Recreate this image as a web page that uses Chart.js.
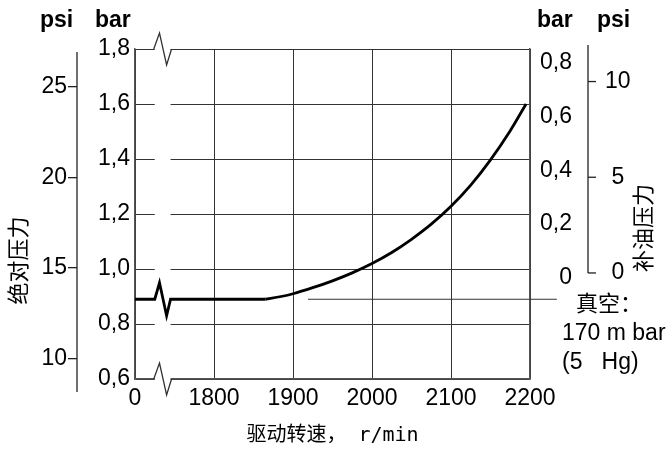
<!DOCTYPE html>
<html>
<head>
<meta charset="utf-8">
<script src="https://cdn.jsdelivr.net/npm/chart.js@4/dist/chart.umd.min.js"></script>
<style>
  html, body { margin: 0; padding: 0; background: #fff; }
  #wrap { width: 672px; height: 450px; }
</style>
</head>
<body>
<div id="wrap"><canvas id="c" width="672" height="450"></canvas></div>
<script>
// Drive speed (r/min) and absolute charge pressure (bar) along the curve.
// 1700 is the broken-axis origin, labelled "0".
const flatRpm = [1700, 1725, 1731, 1740, 1745, 1865];
const flatBar = [0.89, 0.89, 0.95, 0.83, 0.89, 0.89];
const riseRpm = [1865, 1885, 1900, 1925, 1950, 1975, 2000, 2025, 2050, 2075, 2100, 2125, 2150, 2175, 2195];
const riseBar = [0.89, 0.90, 0.91, 0.932, 0.957, 0.986, 1.02, 1.06, 1.108, 1.163, 1.228, 1.305, 1.397, 1.503, 1.60];

// Axis ticks
const speedTicks = [1700, 1800, 1900, 2000, 2100, 2200];
const speedTickLabels = ['0', '1800', '1900', '2000', '2100', '2200'];
const absBarTicks = [0.6, 0.8, 1.0, 1.2, 1.4, 1.6, 1.8];
const absPsiTicks = [10, 15, 20, 25];
const chargeBarTicks = [0, 0.2, 0.4, 0.6, 0.8];
const chargePsiTicks = [0, 5, 10];

// Axis break (r/min) and vacuum leader line
const breakRpm = [1725, 1731, 1740, 1745];
const vacuumBar = 0.89;
const vacuumLeaderRpm = [1919, 2234];

const SANS = '"Liberation Sans", Arial, Helvetica, sans-serif';
const CJK = '"Noto Sans CJK SC", "Noto Sans", sans-serif';
const GRID = '#333';
const FRAME = '#555';

const commaFmt = v => (v === 0 ? '0' : v.toFixed(1).replace('.', ','));
const setTicks = arr => scale => { scale.ticks = arr.map(v => ({ value: v })); };

const axisBreak = {
  id: 'axisBreak',
  beforeDatasetsDraw(chart) {
    const { ctx, chartArea: { top, bottom }, scales: { x } } = chart;
    const p = breakRpm.map(v => x.getPixelForValue(v));
    ctx.save();
    ctx.fillStyle = '#fff';
    ctx.fillRect(p[0], top - 2, p[3] - p[0], bottom - top + 4);
    ctx.strokeStyle = GRID;
    ctx.lineWidth = 1.3;
    [top, bottom].forEach(y => {
      ctx.beginPath();
      ctx.moveTo(p[0] - 1, y);
      ctx.lineTo(p[1], y - 16);
      ctx.lineTo(p[2], y + 16);
      ctx.lineTo(p[3] + 1, y);
      ctx.stroke();
    });
    ctx.restore();
  }
};

const decor = {
  id: 'decor',
  afterDraw(chart) {
    const { ctx, chartArea: ca, scales: s } = chart;
    const line = (x1, y1, x2, y2) => { ctx.beginPath(); ctx.moveTo(x1, y1); ctx.lineTo(x2, y2); ctx.stroke(); };
    ctx.save();
    ctx.strokeStyle = '#222';
    ctx.lineWidth = 1.3;

    // psi axis lines
    const xl = s.yPsiL.right;
    line(xl, ca.top + 3, xl, ca.bottom + 13);
    const xr = s.yPsiR.left + 16;
    line(xr, ca.top - 4, xr, s.yPsiR.getPixelForValue(0));
    chargePsiTicks.forEach(v => {
      const y = s.yPsiR.getPixelForValue(v);
      line(xr, y, xr + 8, y);
    });

    // unit headers
    ctx.fillStyle = '#000';
    ctx.textAlign = 'left';
    ctx.textBaseline = 'alphabetic';
    ctx.font = 'bold 23px ' + SANS;
    ctx.fillText('psi', 40, 27);
    ctx.fillText('bar', 95, 27);
    ctx.fillText('bar', 537, 27);
    ctx.fillText('psi', 597, 27);

    // vertical axis titles
    ctx.font = '22px ' + CJK;
    ctx.textAlign = 'center';
    ctx.textBaseline = 'middle';
    [['绝对压力', 17.5, 260.5], ['补油压力', 643, 228]].forEach(([t, x, y]) => {
      ctx.save();
      ctx.translate(x, y);
      ctx.rotate(-Math.PI / 2);
      ctx.fillText(t, 0, 0);
      ctx.restore();
    });

    // vacuum note
    ctx.textAlign = 'left';
    ctx.font = '22px ' + CJK;
    ctx.fillText('真空：', 576, 302.5);
    ctx.textBaseline = 'alphabetic';
    ctx.font = '23px ' + SANS;
    ctx.fillText('170 m bar', 562, 340);
    ctx.fillText('(5   Hg)', 562, 369);
    ctx.restore();
  }
};

new Chart(document.getElementById('c'), {
  type: 'line',
  data: {
    datasets: [
      {
        data: flatRpm.map((x, i) => ({ x, y: flatBar[i] })),
        borderColor: '#000', borderWidth: 2.8, pointRadius: 0, tension: 0,
        borderJoinStyle: 'miter'
      },
      {
        data: riseRpm.map((x, i) => ({ x, y: riseBar[i] })),
        borderColor: '#000', borderWidth: 2.8, pointRadius: 0,
        cubicInterpolationMode: 'monotone'
      },
      {
        data: vacuumLeaderRpm.map(x => ({ x, y: vacuumBar })),
        borderColor: '#333', borderWidth: 1.2, pointRadius: 0, clip: false
      }
    ]
  },
  options: {
    responsive: false,
    animation: false,
    devicePixelRatio: 1,
    layout: { padding: { top: 49, left: 0, right: 0, bottom: 0 } },
    plugins: { legend: { display: false }, tooltip: { enabled: false } },
    scales: {
      x: {
        type: 'linear', position: 'bottom', min: 1700, max: 2200,
        afterBuildTicks: setTicks(speedTicks),
        afterFit: s => { s.height = 71; },
        grid: { color: GRID, lineWidth: 1, drawTicks: false },
        border: { color: FRAME, width: 1.5 },
        ticks: {
          color: '#000', font: { family: SANS, size: 23 }, padding: 6,
          maxRotation: 0, autoSkip: false,
          callback: v => speedTickLabels[speedTicks.indexOf(v)]
        },
        title: {
          display: true, text: '驱动转速， r/min', color: '#000',
          font: { family: '"DejaVu Sans Mono", "Noto Sans CJK SC", monospace', size: 20 },
          padding: { top: 0, bottom: 2 }
        }
      },
      y: {
        type: 'linear', position: 'left', weight: 0, min: 0.6, max: 1.8,
        afterBuildTicks: setTicks(absBarTicks),
        afterFit: s => { s.width = 58; },
        grid: { color: GRID, lineWidth: 1, drawTicks: false },
        border: { color: FRAME, width: 1.5 },
        ticks: { color: '#000', font: { family: SANS, size: 23 }, padding: 5, callback: commaFmt }
      },
      yPsiL: {
        type: 'linear', position: 'left', weight: 1, min: 8.87, max: 27.1,
        afterBuildTicks: setTicks(absPsiTicks),
        afterFit: s => { s.width = 77; },
        grid: { drawOnChartArea: false, color: '#222', lineWidth: 1.3, tickLength: 9 },
        border: { display: false },
        ticks: { color: '#000', font: { family: SANS, size: 23 }, padding: 1 }
      },
      yGauge: {
        type: 'linear', position: 'right', weight: 0, min: -0.377, max: 0.852,
        afterBuildTicks: setTicks(chargeBarTicks),
        afterFit: s => { s.width = 42; },
        grid: { drawOnChartArea: false, drawTicks: false },
        border: { color: FRAME, width: 1.5 },
        ticks: { color: '#000', font: { family: SANS, size: 23 }, crossAlign: 'far', callback: commaFmt }
      },
      yPsiR: {
        type: 'linear', position: 'right', weight: 1, min: -5.54, max: 11.7,
        afterBuildTicks: setTicks(chargePsiTicks),
        afterFit: s => { s.width = 100; },
        grid: { drawOnChartArea: false, drawTicks: false },
        border: { display: false },
        ticks: { color: '#000', font: { family: SANS, size: 23 }, crossAlign: 'center', padding: 33 }
      }
    }
  },
  plugins: [axisBreak, decor]
});
</script>
</body>
</html>
